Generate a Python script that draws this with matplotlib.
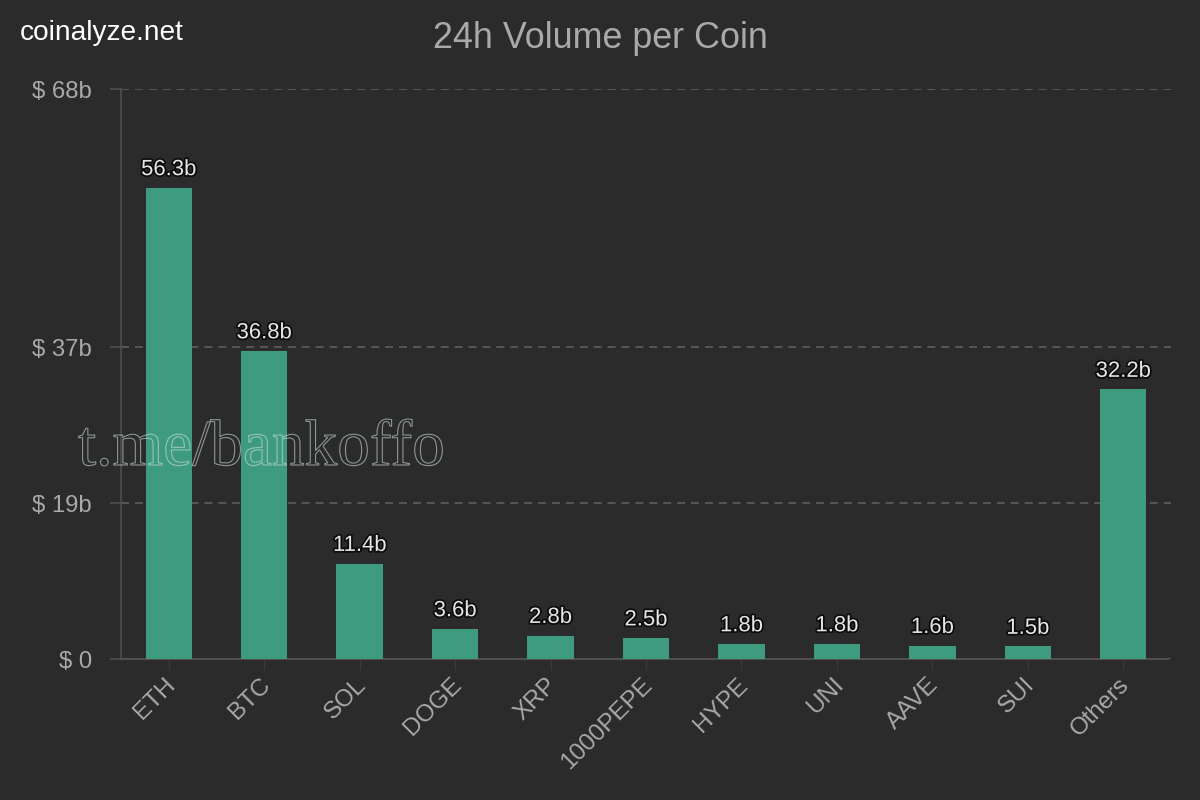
import matplotlib
matplotlib.use("Agg")
import matplotlib.pyplot as plt
import matplotlib.patheffects as pe
from matplotlib.transforms import ScaledTranslation

coins = ["ETH", "BTC", "SOL", "DOGE", "XRP", "1000PEPE", "HYPE", "UNI", "AAVE", "SUI", "Others"]
volumes = [56.3, 36.8, 11.4, 3.6, 2.8, 2.5, 1.8, 1.8, 1.6, 1.5, 32.2]
y_ticks = [0, 18.65, 37.3, 68.1]
y_tick_labels = ["$ 0", "$ 19b", "$ 37b", "$ 68b"]

BG = "#2b2b2b"
BAR = "#3f9b80"
LINE = "#505050"
GRID = "#5a5a5a"
TEXT = "#a9a9a9"

plt.rcParams["font.family"] = ["Liberation Sans", "DejaVu Sans"]

fig = plt.figure(figsize=(12, 8), dpi=100, facecolor=BG)
ax = fig.add_axes([121 / 1200, 141 / 800, 1050 / 1200, 570 / 800], facecolor=BG)

ax.bar(range(len(coins)), volumes, width=0.485, color=BAR, zorder=3)
ax.set_xlim(-0.5, len(coins) - 0.5)
ax.set_ylim(0, 68.1)

for i, v in enumerate(volumes):
    ax.annotate(f"{v}b", (i, v), xytext=(0, 5.5), textcoords="offset points",
                ha="center", va="bottom", fontsize=15.9, color="#e6e6e6", zorder=5,
                path_effects=[pe.withStroke(linewidth=2.5, foreground="#0c0c0c")])

ax.set_yticks(y_ticks, y_tick_labels)
ax.set_xticks(range(len(coins)), coins)
ax.tick_params(axis="y", length=8, width=1.1, color=LINE, pad=13, labelsize=17.2, labelcolor=TEXT)
ax.tick_params(axis="x", length=8, width=1, color="#3a3a3a", pad=9, labelsize=17.5, labelcolor=TEXT)
# x labels sit a little right of their ticks, y labels a little below their gridlines
x_nudge = ScaledTranslation(3 / 100, 1 / 100, fig.dpi_scale_trans)
for label in ax.get_xticklabels():
    label.set_rotation(45)
    label.set_rotation_mode("anchor")
    label.set_ha("right")
    label.set_va("center")
    label.set_transform(label.get_transform() + x_nudge)
y_nudge = ScaledTranslation(0, -1 / 100, fig.dpi_scale_trans)
for label in ax.get_yticklabels():
    label.set_transform(label.get_transform() + y_nudge)

ax.grid(axis="y", color=GRID, linewidth=1.3, linestyle=(0, (4.4, 3.3)), zorder=1)
for side in ["top", "right"]:
    ax.spines[side].set_visible(False)
ax.spines["left"].set_color(LINE)
ax.spines["left"].set_linewidth(1.1)
ax.spines["bottom"].set_color(LINE)
ax.spines["bottom"].set_linewidth(1.5)
ax.spines["bottom"].set_bounds(-0.5, 10.47)

fig.text(600 / 1200, 762 / 800, "24h Volume per Coin", ha="center", va="center",
         fontsize=25.8, color=TEXT)
fig.text(20 / 1200, 767 / 800, "coinalyze.net", ha="left", va="center",
         fontsize=20.2, color="white")

# hollow watermark over the bars
fig.text(78 / 1200, 335 / 800, "t.me/bankoffo", ha="left", va="baseline",
         fontsize=47, family="Liberation Serif", color=(1, 1, 1, 0), zorder=10,
         path_effects=[pe.Stroke(linewidth=0.8, foreground=(0.8, 0.88, 0.85, 0.6))])

fig.savefig("out.png", dpi=100, facecolor=BG)
